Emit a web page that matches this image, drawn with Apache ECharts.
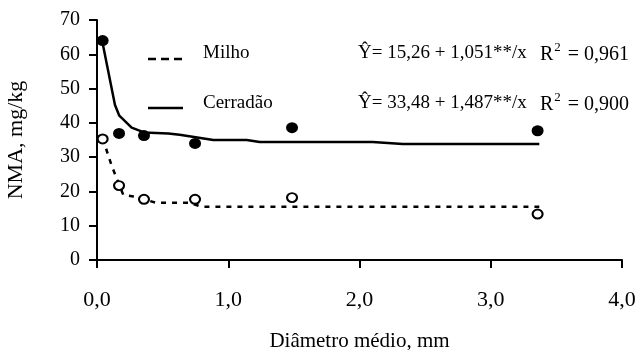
<!DOCTYPE html>
<html>
<head>
<meta charset="utf-8">
<script src="https://cdn.jsdelivr.net/npm/echarts@6/dist/echarts.min.js"></script>
<style>html,body{margin:0;padding:0;background:#fff}#c{width:640px;height:350px}</style>
</head>
<body>
<div id="c"></div>
<script>
// Observed data
var cerradaoPoints = [[0.043, 64.0], [0.168, 36.9], [0.358, 36.3], [0.747, 34.0], [1.486, 38.6], [3.357, 37.7]];
var milhoPoints = [[0.043, 35.3], [0.168, 21.7], [0.358, 17.7], [0.747, 17.7], [1.486, 18.2], [3.357, 13.4]];
// Fitted curves as drawn
var cerradaoFit = [[0.043, 63.2], [0.137, 45.2], [0.17, 42.1], [0.264, 38.6], [0.358, 37.2], [0.543, 36.9], [0.63, 36.5], [0.886, 35.0], [1.14, 35.0], [1.24, 34.4], [2.1, 34.4], [2.33, 33.8], [3.37, 33.8]];
var milhoFit = [[0.043, 35.5], [0.11, 27.7], [0.155, 23.3], [0.2, 19.0], [0.277, 18.5], [0.358, 17.7], [0.45, 16.7], [0.7, 16.7], [0.8, 15.5], [3.37, 15.5]];
var seriesNames = ['Milho', 'Cerradão'];
var equations = ['Ŷ= 15,26 + 1,051**/x', 'Ŷ= 33,48 + 1,487**/x'];
var r2 = ['0,961', '0,900'];
var xTitle = 'Diâmetro médio, mm';
var yTitle = 'NMA, mg/kg';

var FONT = 'Liberation Serif';
var FS = 19;
var chart = echarts.init(document.getElementById('c'), null, {renderer: 'canvas'});
var g = [];
[0, 1].forEach(function (i) {
  var cy = i === 0 ? 52 : 102;
  var ly = i === 0 ? 59 : 108;
  // legend sample line
  g.push({
    type: 'line', shape: {x1: 148, y1: ly, x2: 183, y2: ly},
    style: {stroke: '#000', lineWidth: 2.5, lineDash: i === 0 ? [8, 5] : null}
  });
  g.push({
    type: 'text', left: 203, top: cy - 8,
    style: {text: seriesNames[i], font: FS + 'px "' + FONT + '"', fill: '#000'}
  });
  g.push({
    type: 'text', left: 358, top: cy - 8,
    style: {text: equations[i], font: FS + 'px "' + FONT + '"', fill: '#000'}
  });
  g.push({
    type: 'text', left: 540, top: cy - 11,
    style: {
      text: '{a|R}{s|2}{a| = ' + r2[i] + '}',
      rich: {
        a: {fontFamily: FONT, fontSize: 20, color: '#000', padding: [4, 0, 0, 0]},
        s: {fontFamily: FONT, fontSize: 13, color: '#000', verticalAlign: 'top', padding: [0, 2, 0, 1]}
      }
    }
  });
});
chart.setOption({
  animation: false,
  backgroundColor: '#fff',
  textStyle: {fontFamily: FONT, color: '#000'},
  grid: {left: 97, right: 18, top: 20, bottom: 90, containLabel: false, outerBoundsMode: 'none'},
  xAxis: {
    type: 'value', min: 0, max: 4, interval: 1,
    name: xTitle, nameLocation: 'middle', nameGap: 71,
    nameTextStyle: {fontFamily: FONT, fontSize: 21, color: '#000'},
    axisLine: {onZero: false, lineStyle: {color: '#000', width: 2}},
    axisTick: {show: true, inside: false, length: 8, lineStyle: {color: '#000', width: 2}},
    axisLabel: {margin: 29, fontFamily: FONT, fontSize: 22, color: '#000',
      formatter: function (v) { return v.toFixed(1).replace('.', ','); }},
    splitLine: {show: false}
  },
  yAxis: {
    type: 'value', min: 0, max: 70, interval: 10,
    name: yTitle, nameLocation: 'middle', nameGap: 70, nameRotate: 90,
    nameTextStyle: {fontFamily: FONT, fontSize: 22, color: '#000'},
    axisLine: {show: true, lineStyle: {color: '#000', width: 2}},
    axisTick: {show: true, inside: false, length: 8, lineStyle: {color: '#000', width: 2}},
    axisLabel: {margin: 17, fontFamily: FONT, fontSize: 20, color: '#000'},
    splitLine: {show: false}
  },
  graphic: g,
  series: [
    {
      name: 'Milho', type: 'line', data: milhoFit, symbol: 'none', smooth: false,
      lineStyle: {color: '#000', width: 2.5, type: [5, 6]}, z: 2
    },
    {
      name: 'Cerradão', type: 'line', data: cerradaoFit, symbol: 'none', smooth: false,
      lineStyle: {color: '#000', width: 2.5, type: 'solid'}, z: 2
    },
    {
      name: 'Cerradão pts', type: 'scatter', data: cerradaoPoints, symbol: 'circle', symbolSize: [12, 11],
      itemStyle: {color: '#000', opacity: 1}, z: 3
    },
    {
      name: 'Milho pts', type: 'scatter', data: milhoPoints, symbol: 'circle', symbolSize: [10, 9],
      itemStyle: {color: '#fff', borderColor: '#000', borderWidth: 2, opacity: 1}, z: 3
    }
  ]
});
</script>
</body>
</html>
